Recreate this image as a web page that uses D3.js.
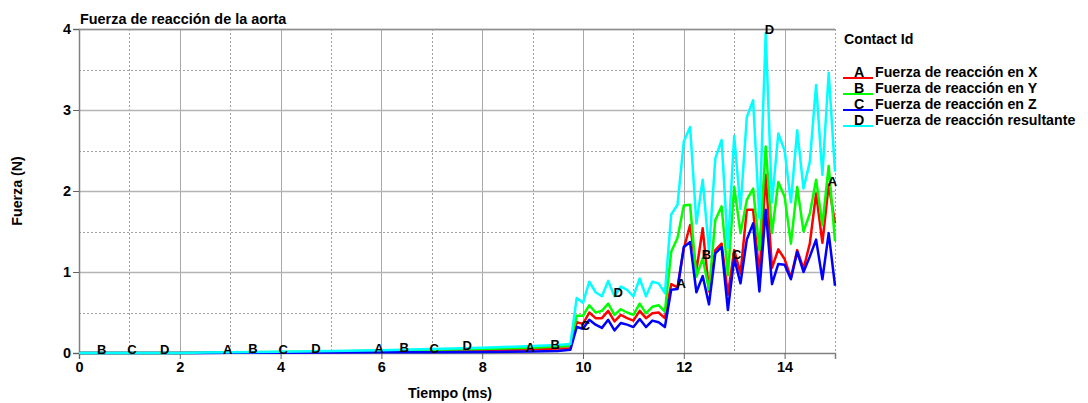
<!DOCTYPE html>
<html>
<head>
<meta charset="utf-8">
<script src="https://cdn.jsdelivr.net/npm/d3@7"></script>
<style>
  html, body { margin: 0; padding: 0; background: #ffffff; }
  svg text { font-family: "Liberation Sans", Arial, sans-serif; font-weight: bold; fill: #000; }
</style>
</head>
<body>
<svg id="chart" width="1088" height="403"></svg>
<script>
// ---------------- DATA ----------------
const tiempo = [0, 1, 2, 2.5, 3, 4, 5, 6, 7, 8, 9, 9.5,
  9.75, 9.875, 10.0, 10.125, 10.25, 10.375, 10.5, 10.625, 10.75, 10.875,
  11.0, 11.125, 11.25, 11.375, 11.5, 11.625, 11.75, 11.875,
  12.0, 12.125, 12.25, 12.375, 12.5, 12.625, 12.75, 12.875,
  13.0, 13.125, 13.25, 13.375, 13.5, 13.625, 13.75, 13.875,
  14.0, 14.125, 14.25, 14.375, 14.5, 14.625, 14.75, 14.875, 15.0];

const fuerzaX = [0, 0, 0, 0.003, 0.005, 0.008, 0.012, 0.018, 0.025, 0.03, 0.045, 0.055,
  0.06, 0.38, 0.36, 0.50, 0.43, 0.43, 0.52, 0.39, 0.47, 0.43,
  0.40, 0.52, 0.43, 0.49, 0.50, 0.43, 0.85, 0.81,
  1.29, 1.58, 1.02, 1.54, 0.76, 1.27, 1.35, 0.72,
  1.27, 0.98, 1.77, 1.77, 0.96, 2.20, 1.05, 1.28,
  1.16, 0.93, 1.27, 1.04, 1.35, 1.97, 1.36, 2.08, 1.60];

const fuerzaY = [0, 0, 0, 0.004, 0.008, 0.012, 0.02, 0.03, 0.04, 0.05, 0.065, 0.08,
  0.09, 0.46, 0.46, 0.59, 0.50, 0.52, 0.61, 0.47, 0.54, 0.50,
  0.47, 0.61, 0.49, 0.57, 0.59, 0.51, 1.25, 1.42,
  1.82, 1.83, 0.94, 1.17, 0.78, 1.64, 1.81, 0.96,
  2.05, 1.48, 1.89, 2.03, 1.27, 2.55, 1.48, 2.11,
  1.93, 1.35, 2.05, 1.50, 1.72, 2.14, 1.58, 2.31, 1.38];

const fuerzaZ = [0, 0, 0, 0.001, 0.002, 0.004, 0.006, 0.008, 0.01, 0.012, 0.018, 0.025,
  0.04, 0.32, 0.30, 0.41, 0.35, 0.31, 0.41, 0.28, 0.37, 0.35,
  0.32, 0.42, 0.32, 0.40, 0.38, 0.32, 0.78, 0.79,
  1.31, 1.37, 0.75, 0.95, 0.60, 1.23, 1.31, 0.53,
  1.17, 0.86, 1.40, 1.60, 0.76, 1.77, 0.85, 1.10,
  1.09, 0.91, 1.25, 1.00, 1.19, 1.40, 0.91, 1.48, 0.83];

const fuerzaResultante = [0, 0, 0, 0.005, 0.01, 0.015, 0.025, 0.035, 0.05, 0.065, 0.085, 0.10,
  0.11, 0.68, 0.62, 0.88, 0.75, 0.70, 0.89, 0.70, 0.82, 0.78,
  0.70, 0.92, 0.70, 0.88, 0.86, 0.74, 1.71, 1.83,
  2.61, 2.79, 1.60, 2.14, 1.25, 2.40, 2.63, 1.30,
  2.68, 1.78, 2.91, 3.12, 1.66, 3.95, 1.86, 2.71,
  2.50, 1.86, 2.75, 2.03, 2.36, 3.31, 2.20, 3.46, 2.24];

const seriesIds = ["A", "B", "C", "D"];
const seriesNames = ["Fuerza de reacción en X", "Fuerza de reacción en Y",
                     "Fuerza de reacción en Z", "Fuerza de reacción resultante"];
const seriesColors = ["#ff0000", "#00ff00", "#0000ff", "#00ffff"];

const labelLetters = ["B", "C", "D", "A", "B", "C", "D", "A", "B", "C", "D",
                      "A", "B", "C", "D", "A", "B", "C", "D", "A"];
const labelTimes = [0.45, 1.05, 1.7, 2.95, 3.45, 4.05, 4.7, 5.95, 6.45, 7.05, 7.7,
                    8.95, 9.45, 10.05, 10.7, 11.95, 12.45, 13.05, 13.7, 14.95];

const xTicks = [0, 2, 4, 6, 8, 10, 12, 14];
const xMinor = [1, 3, 5, 7, 9, 11, 13, 15];
const yTicks = [0, 1, 2, 3, 4];
const yMinor = [0.5, 1.5, 2.5, 3.5];

const title = "Fuerza de reacción de la aorta";
const xTitle = "Tiempo (ms)";
const yTitle = "Fuerza (N)";
const legendTitle = "Contact Id";

// ---------------- CHART ----------------
const valuesBySeries = [fuerzaX, fuerzaY, fuerzaZ, fuerzaResultante];
const series = seriesIds.map((id, i) => ({
  id, name: seriesNames[i], color: seriesColors[i],
  points: tiempo.map((t, j) => ({ t, v: valuesBySeries[i][j] }))
}));

const svg = d3.select("#chart");
const pL = 79, pR = 835, pT = 29, pB = 353;
const x = d3.scaleLinear().domain([0, 15]).range([pL, pR]);
const y = d3.scaleLinear().domain([0, 4]).range([pB, pT]);

const grid = svg.append("g");
// minor dotted grid
grid.selectAll(".vmin").data(xMinor).join("line")
  .attr("x1", d => Math.round(x(d)) + 0.5).attr("x2", d => Math.round(x(d)) + 0.5)
  .attr("y1", pT).attr("y2", pB)
  .attr("stroke", "#a0a0a0").attr("stroke-width", 1).attr("stroke-dasharray", "2,2");
grid.selectAll(".hmin").data(yMinor).join("line")
  .attr("x1", pL).attr("x2", pR)
  .attr("y1", d => Math.round(y(d)) + 0.5).attr("y2", d => Math.round(y(d)) + 0.5)
  .attr("stroke", "#a0a0a0").attr("stroke-width", 1).attr("stroke-dasharray", "2,2");
// major solid grid
grid.selectAll(".vmaj").data(xTicks.filter(d => d > 0)).join("line")
  .attr("x1", d => Math.round(x(d)) + 0.5).attr("x2", d => Math.round(x(d)) + 0.5)
  .attr("y1", pT).attr("y2", pB)
  .attr("stroke", "#a8a8a8").attr("stroke-width", 1);
grid.selectAll(".hmaj").data(yTicks.filter(d => d > 0)).join("line")
  .attr("x1", pL).attr("x2", pR)
  .attr("y1", d => Math.round(y(d)) + 0.5).attr("y2", d => Math.round(y(d)) + 0.5)
  .attr("stroke", "#b4b4b4").attr("stroke-width", 1.5);

// axes
const xAxis = d3.axisBottom(x).tickValues(xTicks).tickSize(6).tickPadding(3).tickFormat(d3.format("d"));
const yAxis = d3.axisLeft(y).tickValues(yTicks).tickSize(6).tickPadding(3).tickFormat(d3.format("d"));
const gx = svg.append("g").attr("transform", `translate(0,${pB})`).call(xAxis);
const gy = svg.append("g").attr("transform", `translate(${pL},0)`).call(yAxis);
[gx, gy].forEach(g => {
  g.select(".domain").attr("stroke", "#808080").attr("stroke-width", 1.5);
  g.selectAll(".tick line").attr("stroke", "#606060");
  g.selectAll(".tick text").style("font-size", "14.5px").style("font-weight", "bold")
    .style("font-family", "'Liberation Sans', Arial, sans-serif").attr("fill", "#000");
});
gy.selectAll(".tick text").attr("dx", "1");
// top border
svg.append("line").attr("x1", pL).attr("x2", pR).attr("y1", pT + 0.5).attr("y2", pT + 0.5)
  .attr("stroke", "#909090").attr("stroke-width", 1.5);

// lines
const line = d3.line().x(d => x(d.t)).y(d => y(d.v));
svg.append("g").selectAll("path").data(series).join("path")
  .attr("d", d => line(d.points))
  .attr("fill", "none")
  .attr("stroke", d => d.color)
  .attr("stroke-width", 2.5)
  .attr("stroke-linejoin", "round");

// in-plot letter labels
const bis = d3.bisector(d => d).right;
const labelData = labelLetters.map((L, i) => {
  const s = series[seriesIds.indexOf(L)];
  const idx = Math.max(0, bis(tiempo, labelTimes[i]) - 1);
  return { L, t: labelTimes[i], v: s.points[idx].v };
});
svg.append("g").selectAll("text").data(labelData).join("text")
  .attr("x", d => x(d.t)).attr("y", d => y(d.v) + 1)
  .attr("text-anchor", "middle")
  .style("font-size", "13px")
  .text(d => d.L);

// titles
svg.append("text").attr("x", 80).attr("y", 24).style("font-size", "14.4px").text(title);
svg.append("text").attr("x", (pL + pR) / 2 - 7).attr("y", 398).attr("text-anchor", "middle")
  .style("font-size", "14.2px").text(xTitle);
svg.append("text").attr("transform", `translate(22,${(pT + pB) / 2}) rotate(-90)`)
  .attr("text-anchor", "middle").style("font-size", "14.2px").text(yTitle);

// legend
const lg = svg.append("g");
lg.append("text").attr("x", 844).attr("y", 44).style("font-size", "14.2px").text(legendTitle);
const rows = lg.selectAll(".row").data(series).join("g")
  .attr("transform", (d, i) => `translate(0,${77 + i * 16})`);
rows.append("line").attr("x1", 843).attr("x2", 873).attr("y1", 1).attr("y2", 1)
  .attr("stroke", d => d.color).attr("stroke-width", 2);
rows.append("text").attr("x", 859).attr("y", 0).attr("text-anchor", "middle")
  .style("font-size", "14.2px").text(d => d.id);
rows.append("text").attr("x", 875).attr("y", 0).style("font-size", "14.2px").text(d => d.name);
</script>
</body>
</html>
